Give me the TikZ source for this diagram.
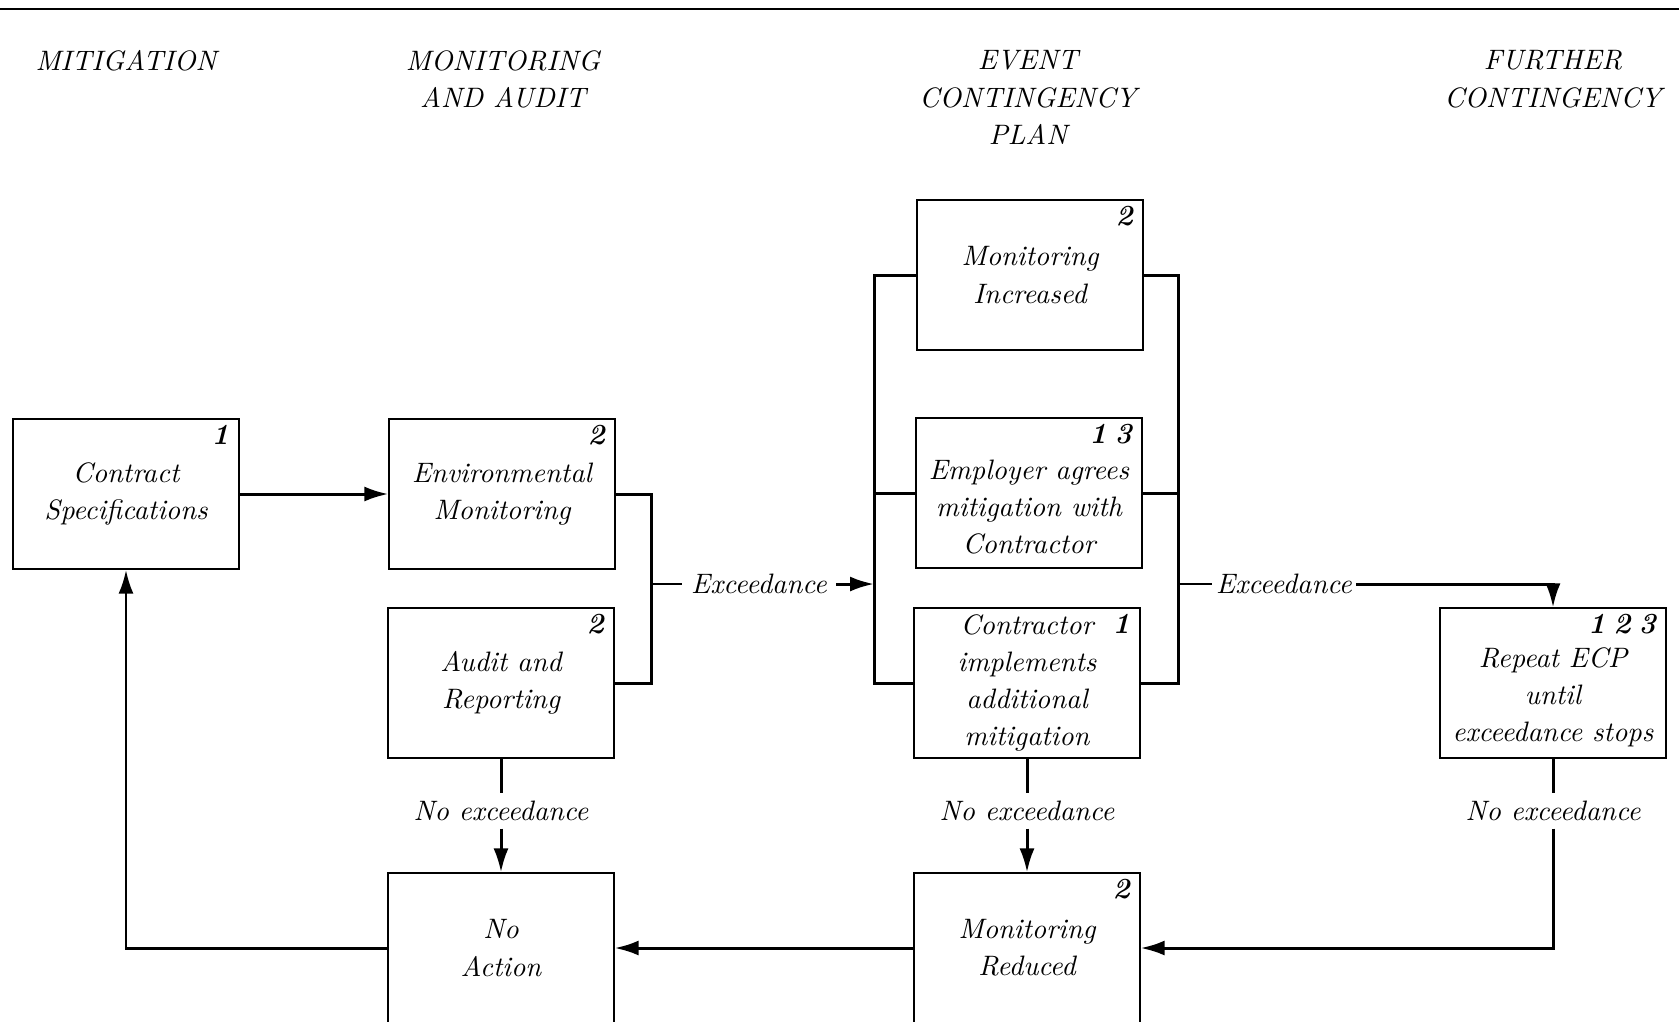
\documentclass[tikz,border=0pt]{standalone}
\usepackage{fontspec}
\setmainfont{lmroman10-regular}[Extension=.otf,ItalicFont=lmroman10-italic,BoldFont=lmroman10-bold,BoldItalicFont=lmroman10-bolditalic]
\usetikzlibrary{arrows.meta}
\newcommand{\numgap}{\rule{0pt}{4.8mm}}

\begin{document}
\begin{tikzpicture}[x=0.1mm,y=-0.1mm]
  \tikzset{block/.style = {shape=rectangle,draw,line width=0.35pt,minimum width=22.6mm,minimum height=15mm,inner sep=0pt,align=center,font=\fontsize{8}{10.6}\selectfont\itshape}}
  \tikzset{head/.style = {anchor=north,inner sep=0pt,align=center,font=\fontsize{8}{10.6}\selectfont\itshape}}
  \tikzset{num/.style = {anchor=north east,inner sep=0pt,font=\fontsize{8.3}{10.6}\selectfont\bfseries\itshape}}
  \tikzset{tag/.style = {inner xsep=2.5pt,inner ysep=2pt,font=\fontsize{8}{10.6}\selectfont\itshape}}
  \tikzset{conn/.style = {line width=0.85pt}}
  \tikzset{lead/.style = {line width=0.35pt}}
  \tikzset{edge/.style = {conn,-{Latex[length=2.4mm,width=1.5mm]}}}

  \useasboundingbox (0,0) rectangle (1679,1023);
  \clip (0,0) rectangle (1679,1021);
  \draw[line width=0.8pt] (0,9) -- (1679,9);

  % column heads
  \node[head] (hmit) at (126,50) {MITIGATION};
  \node[head] (hmon) at (503,50) {MONITORING\\AND AUDIT};
  \node[head] (hecp) at (1028,50) {EVENT\\CONTINGENCY\\PLAN};
  \node[head] (hfur) at (1553,50) {FURTHER\\CONTINGENCY};

  % boxes
  \node[block] (contract) at (126,494) {Contract\\Specifications};
  \node[block] (envmon) at (502,494) {Environmental\\Monitoring};
  \node[block] (audit) at (501,683) {Audit and\\Reporting};
  \node[block] (moninc) at (1030,275) {Monitoring\\Increased};
  \node[block] (employer) at (1029,493) {\numgap Employer agrees\\mitigation with\\Contractor};
  \node[block] (contractor) at (1027,683) {Contractor\\implements\\additional\\mitigation};
  \node[block] (repeat) at (1553,683) {\numgap Repeat ECP\\until\\exceedance stops};
  \node[block] (noaction) at (501,948) {No\\Action};
  \node[block] (monred) at (1027,948) {Monitoring\\Reduced};

  \foreach \blk/\nr in {contract/1, envmon/2, audit/2, moninc/2, employer/1\;3, contractor/1, repeat/1\;2\;3, monred/2}
    \node[num] (\blk-nr) at ([shift={(-10,6)}]\blk.north east) {\nr};

  % brackets
  \coordinate (maj) at (651,584);
  \coordinate (ecpl) at (874,584);
  \coordinate (ecpr) at (1178,584);

  \node[tag] (exc1) at (759,584) {Exceedance};
  \node[tag,inner xsep=1pt] (exc2) at (1284,584) {Exceedance};
  \node[tag] (ne1) at (501,811) {No exceedance};
  \node[tag] (ne2) at (1027,811) {No exceedance};
  \node[tag] (ne3) at (1553,811) {No exceedance};

  \draw[edge] (contract) -- (envmon);
  \draw[conn] (envmon.east) -| (maj) |- (audit.east);
  \draw[lead] (maj) -- (exc1);
  \draw[edge] (exc1) -- (ecpl);

  \draw[conn] (moninc.west) -| (ecpl) |- (contractor.west);
  \draw[conn] (employer.west) -- (employer.west -| ecpl);
  \draw[conn] (moninc.east) -| (ecpr) |- (contractor.east);
  \draw[conn] (employer.east) -- (employer.east -| ecpr);
  \draw[lead] (ecpr) -- (exc2);
  \draw[edge] (exc2) -| (repeat.north);

  \foreach \from/\via/\to in {audit/ne1/noaction, contractor/ne2/monred}
  {
    \draw[conn] (\from) -- (\via);
    \draw[edge] (\via) -- (\to);
  }
  \draw[conn] (repeat) -- (ne3);
  \draw[edge] (ne3) |- (monred.east);
  \draw[edge] (monred) -- (noaction);
  \draw[edge] (noaction.west) -| (contract.south);
\end{tikzpicture}
\end{document}
